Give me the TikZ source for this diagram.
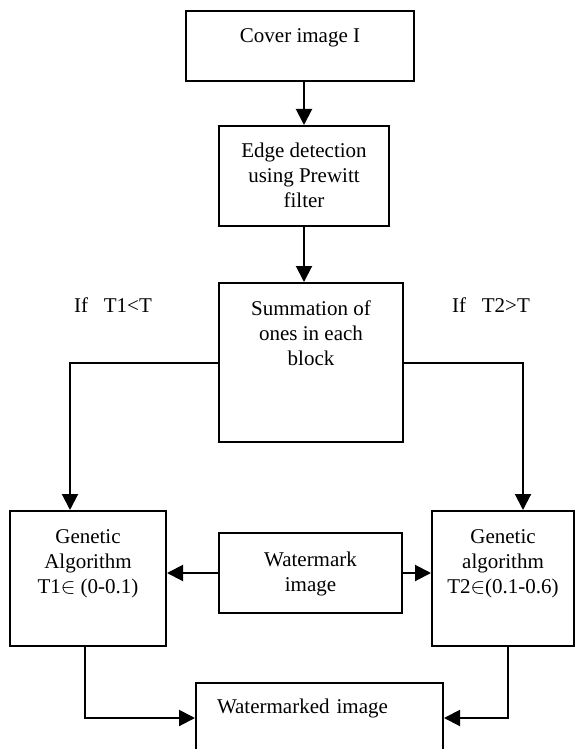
\documentclass[tikz,border=0pt]{standalone}
\usepackage{fontspec}
\setmainfont{Liberation Serif}
\usetikzlibrary{arrows.meta, positioning}

\begin{document}
\begin{tikzpicture}[x=0.5pt, y=-0.5pt,
		blok/.style={shape=rectangle, draw=black, line width=1pt, align=center, anchor=north, inner ysep=0pt, font=\fontsize{10.5pt}{12.5pt}\selectfont},
		flow/.style={line width=1pt, -{Triangle[length=8pt, width=8pt]}},
		cond/.style={font=\fontsize{10.5pt}{12.5pt}\selectfont}]
		
		\useasboundingbox (0,0) rectangle (584,749);
		
		% Cover -> edges -> summation
		\node[blok, minimum width=114pt, text height=16pt, text depth=19pt] (cover) at (300,10) {Cover image I};
		\node[blok, minimum width=85pt, text height=40.5pt, text depth=9.5pt, below = 21.5pt of cover, xshift=2pt] (edge) {Edge detection\\using Prewitt\\filter};
		\node[blok, minimum width=92pt, text height=41pt, text depth=38.5pt, below = 27.5pt of edge, xshift=3.5pt] (sum) {Summation of\\ones in each\\block};
		\path[flow] (cover.south -| edge.north) edge (edge.north);
		\path[flow] (edge.south) edge (edge.south |- sum.north);
		
		% Conditions
		\node[cond] (ifleft) at (113,305) {If\ \ \ T1<T};
		\node[cond] (ifright) at (491,305) {If\ \ \ T2>T};
		
		% Genetic algorithms
		\node[blok, minimum width=78pt, text height=41pt, text depth=26.5pt] (ga1) at (88,510) {Genetic\\Algorithm\\T1$\in$ (0-0.1)};
		\node[blok, minimum width=71pt, text height=41pt, text depth=26.5pt] (ga2) at (503,510) {Genetic\\algorithm\\T2$\in$(0.1-0.6)};
		\node[blok, minimum width=91.5pt, text height=29pt, text depth=11pt] (wm) at (310.5,532) {Watermark\\image};
		\draw[flow] (sum.west) -| ([xshift=-9pt]ga1.north);
		\draw[flow] (sum.east) -| ([xshift=10pt]ga2.north);
		\draw[flow] (wm.west) -- (wm.west -| ga1.east);
		\draw[flow] (wm.east) -- (wm.east -| ga2.west);
		
		% Output
		\node[blok, text width=102.5pt, inner xsep=10.5pt, align=left, text height=15pt, text depth=20pt] (wmd) at (319.5,682) {Watermarked image};
		\draw[flow] ([xshift=-1.5pt]ga1.south) |- (wmd.west);
		\draw[flow] ([xshift=2.5pt]ga2.south) |- (wmd.east);
	\end{tikzpicture}
\end{document}
